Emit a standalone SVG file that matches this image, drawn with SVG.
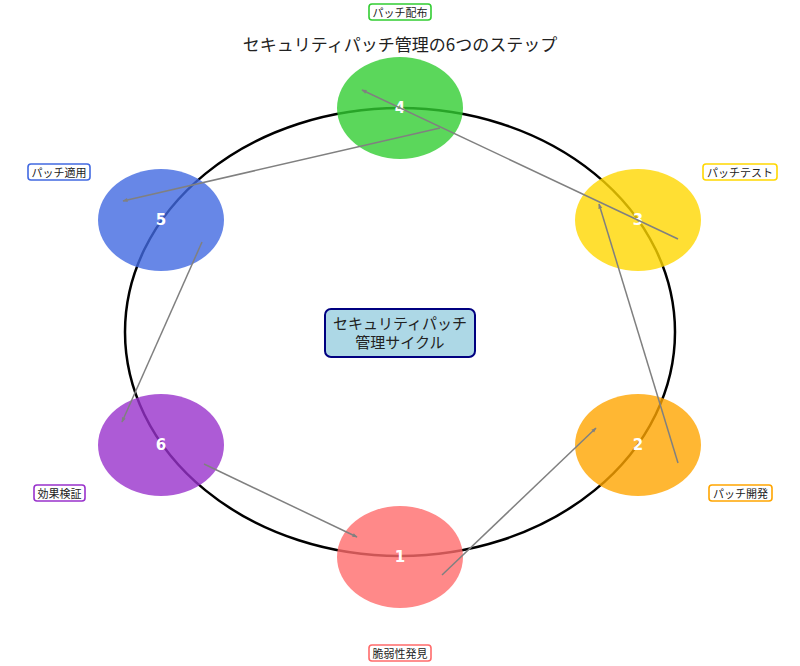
<svg xmlns="http://www.w3.org/2000/svg" width="800" height="666" viewBox="0 0 800 666">
<style>
text{font-family:"Noto Sans CJK JP","DejaVu Sans",sans-serif;}
.node{fill-opacity:0.8;stroke:none;}
.num{fill:#fff;font-family:"DejaVu Sans",sans-serif;font-weight:bold;font-size:15px;text-anchor:middle;dominant-baseline:central;}
.lbl{fill:#fff;stroke-width:1.6;}
.lt{font-size:11px;fill:#222;text-anchor:middle;dominant-baseline:central;}
.conn{stroke:#808080;stroke-width:1.5;fill:none;marker-end:url(#ah);}
</style>
<defs>
<marker id="ah" viewBox="0 0 10 10" refX="9" refY="5" markerWidth="5" markerHeight="5" orient="auto" markerUnits="userSpaceOnUse" overflow="visible">
<path d="M0,1 L10,5 L0,9 Z" fill="#808080"/>
</marker>
</defs>
<rect width="800" height="666" fill="#fff"/>
<text x="400" y="43" font-size="17" text-anchor="middle" dominant-baseline="central" fill="#222">セキュリティパッチ管理の6つのステップ</text>
<ellipse cx="400" cy="332" rx="275" ry="224" fill="none" stroke="#000" stroke-width="2.5"/>
<g id="node1"><ellipse class="node" cx="400" cy="557" rx="63" ry="51" fill="#FF6B6B"/><text class="num" x="400" y="557">1</text></g>
<g id="node2"><ellipse class="node" cx="638" cy="445" rx="63" ry="51" fill="#FFA500"/><text class="num" x="638" y="445">2</text></g>
<g id="node3"><ellipse class="node" cx="638" cy="220" rx="63" ry="51" fill="#FFD700"/><text class="num" x="638" y="220">3</text></g>
<g id="node4"><ellipse class="node" cx="400" cy="108" rx="63" ry="51" fill="#32CD32"/><text class="num" x="400" y="108">4</text></g>
<g id="node5"><ellipse class="node" cx="161" cy="220" rx="63" ry="51" fill="#4169E1"/><text class="num" x="161" y="220">5</text></g>
<g id="node6"><ellipse class="node" cx="161" cy="445" rx="63" ry="51" fill="#9932CC"/><text class="num" x="161" y="445">6</text></g>
<g id="connectors">
<line class="conn" x1="442" y1="575" x2="596" y2="428"/>
<line class="conn" x1="678" y1="463" x2="599" y2="204"/>
<line class="conn" x1="678" y1="239" x2="362" y2="90"/>
<line class="conn" x1="440" y1="128" x2="123" y2="201"/>
<line class="conn" x1="202" y1="242" x2="122" y2="422"/>
<line class="conn" x1="204" y1="464" x2="357" y2="537"/>
</g>
<g id="label1"><rect class="lbl" x="369" y="645" width="62" height="16" rx="3" stroke="#FF6B6B"/><text class="lt" x="400" y="653">脆弱性発見</text></g>
<g id="label2"><rect class="lbl" x="709" y="485" width="63" height="16" rx="3" stroke="#FFA500"/><text class="lt" x="740.5" y="493">パッチ開発</text></g>
<g id="label3"><rect class="lbl" x="703" y="164" width="74" height="16" rx="3" stroke="#FFD700"/><text class="lt" x="740" y="172">パッチテスト</text></g>
<g id="label4"><rect class="lbl" x="369" y="4" width="62" height="16" rx="3" stroke="#32CD32"/><text class="lt" x="400" y="12">パッチ配布</text></g>
<g id="label5"><rect class="lbl" x="28" y="164" width="62" height="16" rx="3" stroke="#4169E1"/><text class="lt" x="59" y="172">パッチ適用</text></g>
<g id="label6"><rect class="lbl" x="34" y="485" width="51" height="16" rx="3" stroke="#9932CC"/><text class="lt" x="59.5" y="493">効果検証</text></g>
<g id="center"><rect x="325" y="309" width="150" height="48" rx="6" fill="#ADD8E6" stroke="#000080" stroke-width="2"/>
<text x="400" y="322" font-size="15" text-anchor="middle" dominant-baseline="central" fill="#222">セキュリティパッチ</text>
<text x="400" y="341" font-size="15" text-anchor="middle" dominant-baseline="central" fill="#222">管理サイクル</text></g>
</svg>
